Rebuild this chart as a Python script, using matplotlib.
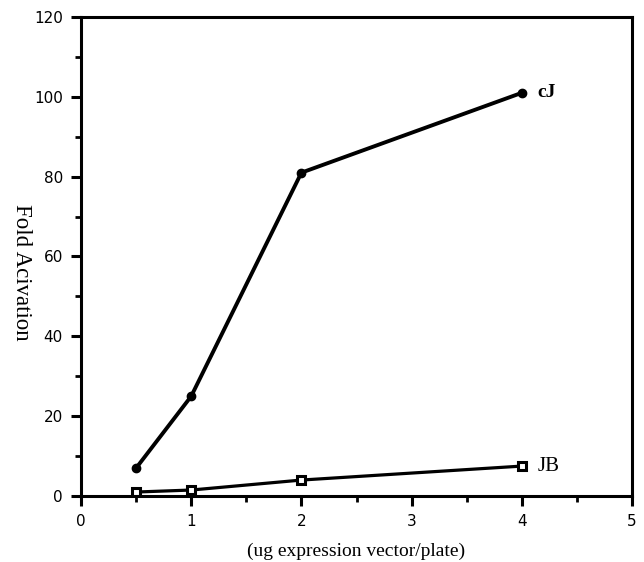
import matplotlib
matplotlib.use('Agg')
import matplotlib.pyplot as plt
from matplotlib.ticker import MultipleLocator

dose = [0.5, 1, 2, 4]
cj = [7, 25, 81, 101]
jb = [1, 1.5, 4, 7.5]

fig = plt.figure(figsize=(6.44, 5.62), dpi=100)
ax = fig.add_axes([0.1258, 0.1174, 0.8556, 0.8524])

ax.plot(dose, cj, color='black', lw=2.8, marker='o', ms=6, mfc='black', mec='black')
ax.plot(dose, jb, color='black', lw=2.3, marker='s', ms=6, mfc='white', mec='black', mew=2.2)

ax.text(4.14, 101, 'cJ', fontsize=14, family='Liberation Serif', fontweight='bold', va='center')
ax.text(4.14, 7.5, 'JB', fontsize=15, family='Liberation Serif', va='center')

ax.set_xlim(0, 5)
ax.set_ylim(0, 120)
ax.xaxis.set_major_locator(MultipleLocator(1))
ax.xaxis.set_minor_locator(MultipleLocator(0.5))
ax.yaxis.set_major_locator(MultipleLocator(20))
ax.yaxis.set_minor_locator(MultipleLocator(10))
ax.tick_params(which='major', direction='out', length=7, width=2.2, labelsize=11, pad=6)
ax.tick_params(which='minor', direction='out', length=4, width=2)
for lab in ax.get_xticklabels() + ax.get_yticklabels():
    lab.set_family('DejaVu Sans')
for s in ax.spines.values():
    s.set_linewidth(2.2)

ax.set_xlabel('(ug expression vector/plate)', fontsize=14, family='Liberation Serif', labelpad=10)
fig.text(0.033, 0.516, 'Fold Acivation', fontsize=16.5, family='Liberation Serif',
         rotation=-90, ha='center', va='center')

fig.savefig('out.png', dpi=100)
